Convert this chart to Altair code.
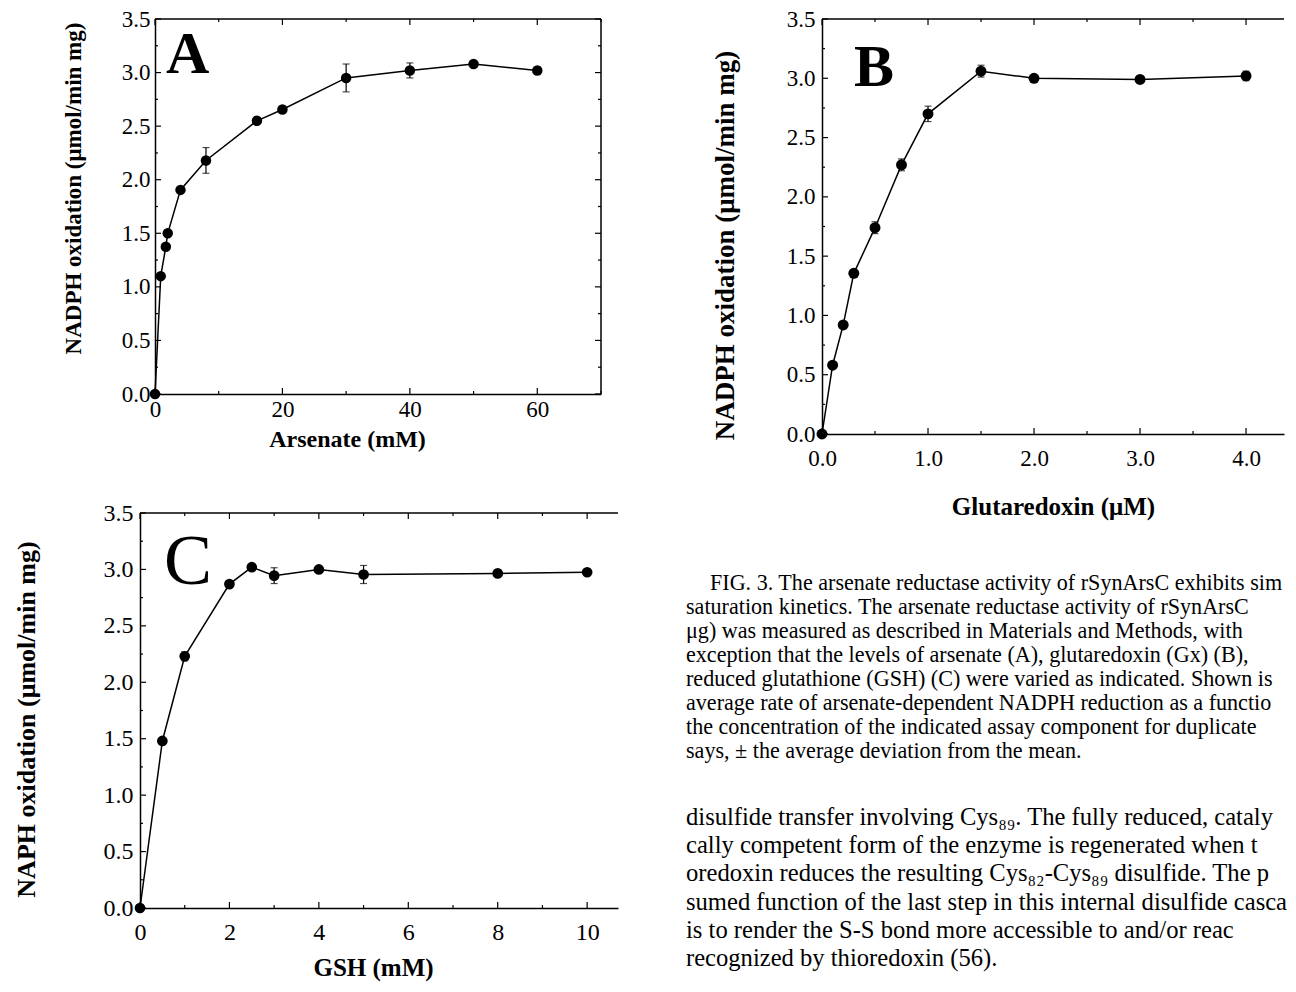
import altair as alt
import pandas as pd

FONT = "Liberation Serif"

# ---------------- data ----------------
a_x = [0, 0.9, 1.7, 2.0, 4, 8, 16, 20, 30, 40, 50, 60]
a_y = [0.0, 1.10, 1.375, 1.50, 1.905, 2.18, 2.55, 2.655, 2.95, 3.02, 3.08, 3.02]
a_err = [0, 0, 0, 0, 0, 0.12, 0, 0, 0.13, 0.07, 0, 0.03]

b_x = [0, 0.1, 0.2, 0.3, 0.5, 0.75, 1.0, 1.5, 2.0, 3.0, 4.0]
b_y = [0.0, 0.58, 0.92, 1.355, 1.74, 2.27, 2.70, 3.06, 3.00, 2.99, 3.02]
b_err = [0, 0, 0, 0, 0.05, 0.05, 0.065, 0.05, 0, 0, 0.04]

c_x = [0, 0.5, 1, 2, 2.5, 3, 4, 5, 8, 10]
c_y = [0.0, 1.48, 2.23, 2.87, 3.02, 2.945, 3.00, 2.955, 2.965, 2.975]
c_err = [0, 0, 0.04, 0, 0, 0.07, 0, 0.08, 0, 0]

y_major = [0.0, 0.5, 1.0, 1.5, 2.0, 2.5, 3.0, 3.5]
y_minor = [0.25, 0.75, 1.25, 1.75, 2.25, 2.75, 3.25]
a_x_major = [0, 20, 40, 60]
a_x_minor = [10, 30, 50, 70]
b_x_major = [0, 1, 2, 3, 4]
b_x_minor = [0.5, 1.5, 2.5, 3.5]
c_x_major = [0, 2, 4, 6, 8, 10]
c_x_minor = [1, 3, 5, 7, 9]

caption_lines = [
    "FIG. 3. The arsenate reductase activity of rSynArsC exhibits sim",
    "saturation kinetics. The arsenate reductase activity of rSynArsC",
    "\u03bcg) was measured as described in Materials and Methods, with",
    "exception that the levels of arsenate (A), glutaredoxin (Gx) (B),",
    "reduced glutathione (GSH) (C) were varied as indicated. Shown is",
    "average rate of arsenate-dependent NADPH reduction as a functio",
    "the concentration of the indicated assay component for duplicate",
    "says, \u00b1 the average deviation from the mean.",
]
body_lines = [
    "disulfide transfer involving Cys\u2088\u2089. The fully reduced, cataly",
    "cally competent form of the enzyme is regenerated when t",
    "oredoxin reduces the resulting Cys\u2088\u2082-Cys\u2088\u2089 disulfide. The p",
    "sumed function of the last step in this internal disulfide casca",
    "is to render the S-S bond more accessible to and/or reac",
    "recognized by thioredoxin (56).",
]


def panel(xs, ys, errs, xdom, ix, W, H, x_major, x_minor, x_fmt, x_title, y_title,
          letter, letter_weight, letter_size, lx, ly, o, right_frame):
    """One scatter/line panel. ix = blank inset on the left of the plot frame."""
    df = pd.DataFrame({"x": xs, "y": ys, "err": errs})
    df["lo"] = df["y"] - df["err"]
    df["hi"] = df["y"] + df["err"]
    xsc = alt.Scale(domain=xdom, nice=False, zero=False, range=[ix, ix + W])
    ysc = alt.Scale(domain=[0, 3.5], nice=False, zero=False)
    xaxis = alt.Axis(values=x_major, format=x_fmt, title=x_title, grid=False, ticks=False,
                     domainColor="black", domainWidth=1.5, labelFont=FONT,
                     labelFontSize=o["xl"], labelColor="black", labelPadding=o["xlp"],
                     labelFlush=False, labelOverlap=False, titleFont=FONT,
                     titleFontSize=o["xt"], titleFontWeight="bold", titleColor="black",
                     titleX=ix + o["xtx"], titleY=o["xty"], titleBaseline="middle")
    yaxis = alt.Axis(values=y_major, format=".1f", title=y_title, grid=False, ticks=False,
                     domainColor="black", domainWidth=1.5, labelFont=FONT,
                     labelFontSize=o["yl"], labelColor="black", labelPadding=o["ylp"],
                     labelOverlap=False, titleFont=FONT, offset=-ix,
                     titleFontSize=o["yt"], titleFontWeight="bold", titleColor="black",
                     titleX=o["ytx"], titleY=o["yty"], titleBaseline="middle")
    base = alt.Chart(df)
    line = base.mark_line(color="black", strokeWidth=1.5).encode(
        x=alt.X("x:Q", scale=xsc, axis=xaxis), y=alt.Y("y:Q", scale=ysc, axis=yaxis))
    pts = base.mark_circle(size=o["ps"], color="black", opacity=1).encode(
        x=alt.X("x:Q", scale=xsc), y=alt.Y("y:Q", scale=ysc))
    eb = base.transform_filter("datum.err > 0")
    bars = eb.mark_rule(color="black", strokeWidth=1.2).encode(
        x=alt.X("x:Q", scale=xsc), y=alt.Y("lo:Q", scale=ysc), y2="hi:Q")
    cap_lo = eb.mark_tick(orient="horizontal", size=7, thickness=1.2, color="black").encode(
        x=alt.X("x:Q", scale=xsc), y=alt.Y("lo:Q", scale=ysc))
    cap_hi = eb.mark_tick(orient="horizontal", size=7, thickness=1.2, color="black").encode(
        x=alt.X("x:Q", scale=xsc), y=alt.Y("hi:Q", scale=ysc))

    layers = [line, bars, cap_lo, cap_hi, pts]

    def yt(vals, L, side):
        d = pd.DataFrame({"y": vals})
        x0, x1 = (ix, ix + L) if side == "left" else (ix + W - L, ix + W)
        return alt.Chart(d).mark_rule(color="black", strokeWidth=1.2).encode(
            y=alt.Y("y:Q", scale=ysc), x=alt.value(x0), x2=alt.value(x1))

    def xt(vals, L, side):
        d = pd.DataFrame({"x": vals})
        y0, y1 = (H, H - L) if side == "bottom" else (0, L)
        return alt.Chart(d).mark_rule(color="black", strokeWidth=1.2).encode(
            x=alt.X("x:Q", scale=xsc), y=alt.value(y0), y2=alt.value(y1))

    layers += [yt(y_major, 6, "left"), yt(y_minor, 3, "left"),
               xt(x_major, 6, "bottom"), xt(x_minor, 3, "bottom"),
               xt(x_major, 6, "top"), xt(x_minor, 3, "top")]
    if right_frame:
        layers += [yt(y_major, 6, "right"), yt(y_minor, 3, "right")]

    one = pd.DataFrame({"k": [0]})
    layers.append(alt.Chart(one).mark_rule(color="black", strokeWidth=1.5).encode(
        x=alt.value(ix), x2=alt.value(ix + W), y=alt.value(0)))
    if right_frame:
        layers.append(alt.Chart(one).mark_rule(color="black", strokeWidth=1.5).encode(
            x=alt.value(ix + W), y=alt.value(0), y2=alt.value(H)))

    lab = alt.Chart(pd.DataFrame({"t": [letter]})).mark_text(
        font=FONT, fontSize=letter_size, fontWeight=letter_weight, align="left",
        baseline="alphabetic", color="black").encode(
        text="t:N", x=alt.value(ix + lx), y=alt.value(ly))
    layers.append(lab)
    return alt.layer(*layers).properties(width=ix + W, height=H)


A = panel(a_x, a_y, a_err, [0, 70], 15, 446, 375, a_x_major, a_x_minor, "d",
          "Arsenate (mM)", "NADPH oxidation (\u03bcmol/min mg)", "A", "bold", 60, 11, 54,
          dict(xl=23, xlp=4, xt=24, xtx=192, xty=45, yl=23, ylp=5, yt=23, ytx=-82, yty=169, ps=110),
          True)
B = panel(b_x, b_y, b_err, [0, 4.358], 136, 462, 415, b_x_major, b_x_minor, ".1f",
          "Glutaredoxin (\u03bcM)", "NADPH oxidation (\u03bcmol/min mg)", "B", "bold", 60, 32, 67,
          dict(xl=23, xlp=13, xt=25, xtx=231, xty=72, yl=23, ylp=7, yt=27, ytx=-97, yty=226, ps=120),
          False)
C = panel(c_x, c_y, c_err, [0, 10.69], 0, 478, 395, c_x_major, c_x_minor, "d",
          "GSH (mM)", "NAPH oxidation (\u03bcmol/min mg)", "C", "normal", 72, 24, 71,
          dict(xl=24, xlp=12, xt=25, xtx=233, xty=59, yl=24, ylp=7, yt=26, ytx=-114, yty=206, ps=115),
          False)

# text block: caption lines and body lines, each spread over its own point scale
TW, TH = 602, 466
cap_df = pd.DataFrame({"i": list(range(len(caption_lines))), "t": caption_lines})
cap_scale = alt.Scale(type="point", padding=0, range=[70, 238], domain=list(range(len(caption_lines))))
cap_first = alt.Chart(cap_df).transform_filter("datum.i == 0").mark_text(
    font=FONT, fontSize=22.1, align="left", baseline="middle", clip=True, color="black", dx=24
).encode(y=alt.Y("i:O", axis=None, scale=cap_scale), x=alt.value(0), text="t:N")
cap_rest = alt.Chart(cap_df).transform_filter("datum.i > 0").mark_text(
    font=FONT, fontSize=22.1, align="left", baseline="middle", clip=True, color="black"
).encode(y=alt.Y("i:O", axis=None, scale=cap_scale), x=alt.value(0), text="t:N")
cap = alt.layer(cap_first, cap_rest)

body_df = pd.DataFrame({"i": list(range(len(body_lines))), "t": body_lines})
body = alt.Chart(body_df).mark_text(font=FONT, fontSize=24.6, align="left", baseline="middle",
                                    clip=True, color="black").encode(
    y=alt.Y("i:O", axis=None, scale=alt.Scale(type="point", padding=0, range=[305, 446])),
    x=alt.value(0), text="t:N")

T = alt.layer(cap, body).resolve_scale(y="independent").properties(width=TW, height=TH)

chart = alt.concat(
    A, B, C, T,
    columns=2, spacing={"row": 79, "column": 68}, bounds="flush", align="each",
).properties(
    padding={"left": 4, "top": 0, "right": 0, "bottom": 2},
    background="white",
).configure_view(stroke="transparent", strokeWidth=0)

chart.save("out.html", embed_options={"renderer": "svg", "actions": False})
